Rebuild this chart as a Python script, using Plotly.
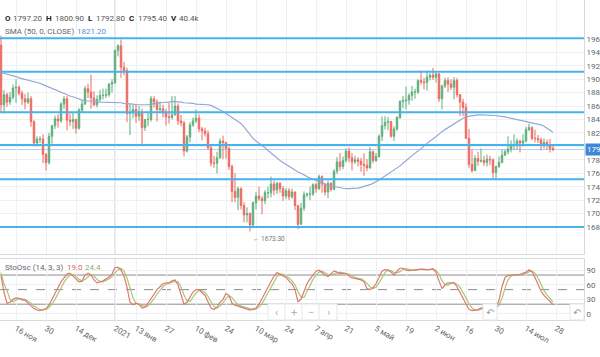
import pandas as pd
import plotly.graph_objects as go

# ---------------- data ----------------
holidays = ["2020-12-25", "2021-01-01"]
calendar = [d.strftime("%Y-%m-%d") for d in pd.bdate_range("2020-11-09", "2021-08-13")
            if d.strftime("%Y-%m-%d") not in holidays]

opn = [1951, 1862, 1877, 1866, 1873, 1887, 1888, 1879, 1871, 1866, 1871, 1837, 1805, 1811, 1811, 1788,
       1776, 1815, 1831, 1841, 1838, 1863, 1871, 1839, 1837, 1840, 1827, 1854, 1863, 1886, 1881, 1872, 1862, 1870, 1876, 1876, 1877, 1893,
       1895, 1943, 1950, 1918, 1913, 1849, 1850, 1855, 1845, 1851, 1828, 1840, 1840, 1871, 1866, 1855, 1856, 1850, 1844, 1843,
       1847, 1860, 1838, 1835, 1793, 1814, 1832, 1838, 1842, 1826, 1823, 1819, 1798, 1775, 1775, 1783, 1808, 1806, 1797, 1770,
       1733, 1724, 1737, 1712, 1698, 1700, 1683, 1716, 1726, 1722, 1719, 1731, 1731, 1744, 1735, 1745, 1737, 1726, 1734, 1725, 1732, 1712, 1684,
       1708, 1728, 1729, 1729, 1743, 1737, 1755, 1744, 1732, 1745, 1736, 1763, 1777, 1770, 1779, 1793, 1783, 1777, 1780, 1778, 1773, 1772,
       1768, 1792, 1779, 1785, 1815, 1831, 1836, 1837, 1815, 1826, 1843, 1867, 1868, 1869, 1876, 1881, 1881, 1898, 1896, 1895, 1903, 1906, 1903,
       1908, 1871, 1890, 1898, 1893, 1888, 1898, 1877, 1866, 1858, 1812, 1773, 1764, 1782, 1778, 1779, 1776, 1781, 1780, 1761,
       1770, 1776, 1787, 1792, 1796, 1803, 1803, 1808, 1805, 1808, 1825, 1828, 1812, 1812, 1810, 1803, 1806, 1802, 1797.2]
high = [1965, 1884, 1880, 1881, 1892, 1900, 1891, 1883, 1878, 1880, 1875, 1839, 1815, 1815, 1818, 1790,
        1820, 1832, 1846, 1848, 1866, 1875, 1875, 1849, 1850, 1841, 1857, 1869, 1890, 1893, 1907, 1882, 1876, 1884, 1886, 1886, 1894, 1900,
        1944, 1952, 1959, 1926, 1917, 1864, 1862, 1863, 1860, 1856, 1841, 1850, 1875, 1875, 1870, 1867, 1862, 1856, 1865, 1875,
        1875, 1864, 1847, 1838, 1817, 1836, 1843, 1855, 1848, 1829, 1828, 1824, 1801, 1786, 1792, 1812, 1816, 1806, 1799, 1773,
        1760, 1740, 1739, 1717, 1709, 1702, 1718, 1732, 1740, 1726, 1735, 1740, 1755, 1749, 1747, 1747, 1741, 1738, 1738, 1737, 1733, 1713, 1716,
        1733, 1731, 1740, 1745, 1746, 1758, 1757, 1745, 1749, 1747, 1766, 1784, 1790, 1785, 1797, 1798, 1790, 1786, 1784, 1783, 1790, 1781,
        1799, 1794, 1790, 1818, 1845, 1845, 1844, 1838, 1830, 1845, 1869, 1875, 1889, 1879, 1890, 1886, 1900, 1913, 1902, 1913, 1909, 1917, 1910,
        1909, 1892, 1902, 1903, 1900, 1903, 1902, 1878, 1871, 1864, 1826, 1795, 1787, 1792, 1797, 1786, 1788, 1786, 1782, 1771,
        1785, 1795, 1795, 1815, 1809, 1818, 1812, 1810, 1818, 1829, 1834, 1830, 1825, 1817, 1813, 1812, 1810, 1811, 1800.9]
low = [1850, 1849, 1859, 1862, 1870, 1865, 1876, 1862, 1855, 1863, 1829, 1800, 1800, 1805, 1775, 1764,
       1773, 1804, 1826, 1828, 1835, 1856, 1824, 1830, 1826, 1819, 1825, 1850, 1862, 1872, 1856, 1860, 1858, 1867, 1870, 1872, 1874, 1880,
       1893, 1934, 1902, 1906, 1836, 1817, 1842, 1835, 1838, 1803, 1823, 1830, 1837, 1858, 1837, 1850, 1843, 1831, 1834, 1840,
       1846, 1832, 1830, 1785, 1791, 1806, 1829, 1835, 1821, 1809, 1815, 1795, 1770, 1768, 1760, 1782, 1781, 1782, 1765, 1717,
       1717, 1705, 1706, 1687, 1687, 1673.3, 1678, 1706, 1719, 1699, 1714, 1723, 1724, 1727, 1729, 1731, 1719, 1722, 1720, 1722, 1705, 1677, 1684,
       1704, 1724, 1720, 1726, 1731, 1735, 1731, 1727, 1723, 1733, 1735, 1759, 1764, 1766, 1776, 1776, 1764, 1774, 1770, 1762, 1756, 1763,
       1767, 1775, 1777, 1783, 1808, 1825, 1824, 1813, 1808, 1823, 1841, 1857, 1855, 1862, 1868, 1871, 1878, 1892, 1885, 1883, 1898, 1899, 1895,
       1866, 1855, 1887, 1881, 1884, 1870, 1873, 1845, 1845, 1811, 1768, 1761, 1763, 1771, 1776, 1771, 1770, 1772, 1750, 1751,
       1768, 1775, 1786, 1788, 1791, 1795, 1795, 1791, 1800, 1806, 1823, 1809, 1806, 1805, 1794, 1797, 1795, 1791, 1792.8]
close = [1862, 1877, 1866, 1873, 1887, 1888, 1879, 1871, 1866, 1871, 1837, 1805, 1811, 1811, 1788, 1776,
         1815, 1831, 1841, 1838, 1863, 1871, 1839, 1837, 1840, 1827, 1854, 1863, 1886, 1881, 1872, 1862, 1870, 1876, 1876, 1877, 1893, 1895,
         1943, 1950, 1918, 1913, 1849, 1850, 1855, 1845, 1851, 1828, 1840, 1840, 1871, 1866, 1855, 1856, 1850, 1844, 1843, 1847,
         1860, 1838, 1835, 1793, 1814, 1832, 1838, 1842, 1826, 1823, 1819, 1798, 1775, 1775, 1783, 1808, 1806, 1797, 1770, 1733,
         1724, 1737, 1712, 1698, 1700, 1683, 1716, 1726, 1722, 1719, 1731, 1731, 1744, 1735, 1745, 1737, 1726, 1734, 1725, 1732, 1712, 1684, 1708,
         1728, 1729, 1729, 1743, 1737, 1755, 1744, 1732, 1745, 1736, 1763, 1777, 1770, 1779, 1793, 1783, 1777, 1780, 1778, 1773, 1772, 1768,
         1792, 1779, 1785, 1815, 1831, 1836, 1837, 1815, 1826, 1843, 1867, 1868, 1869, 1876, 1881, 1881, 1898, 1896, 1895, 1903, 1906, 1903, 1908,
         1871, 1890, 1898, 1893, 1888, 1898, 1877, 1866, 1858, 1812, 1773, 1764, 1782, 1778, 1779, 1776, 1781, 1780, 1761, 1770,
         1776, 1787, 1792, 1796, 1803, 1803, 1808, 1805, 1808, 1825, 1828, 1812, 1812, 1810, 1803, 1806, 1802, 1797, 1795.4]

sma50 = [1910, 1909, 1907, 1906, 1905, 1904, 1902, 1901, 1900, 1899, 1897, 1896, 1895, 1894,
         1892, 1890, 1888, 1886, 1884, 1882, 1880, 1879, 1877, 1875, 1874, 1872, 1870, 1869,
         1868, 1868, 1867, 1867, 1867, 1866, 1866, 1866, 1866, 1866, 1866, 1865, 1865, 1864, 1864,
         1863, 1863, 1862, 1862, 1861, 1862, 1862, 1863, 1863, 1864, 1865, 1865, 1866, 1866, 1867,
         1867, 1866, 1866, 1865, 1865, 1864, 1864, 1863, 1863, 1863, 1862, 1862, 1861, 1859, 1857,
         1855, 1852, 1849, 1846, 1843, 1840, 1837, 1834, 1829, 1823, 1818, 1812,
         1808, 1805, 1801, 1798, 1794, 1790, 1786, 1783, 1779, 1776, 1773, 1770, 1767, 1765, 1762,
         1760, 1757, 1755, 1753, 1751, 1749, 1747, 1745, 1744, 1742, 1741, 1740, 1739, 1738, 1738, 1737,
         1737, 1737, 1738, 1738, 1739, 1740, 1741, 1743, 1745, 1747, 1750, 1753, 1756, 1759, 1762, 1765, 1767,
         1771, 1775, 1779, 1782, 1786, 1790, 1793, 1797, 1800, 1804, 1808, 1811, 1815,
         1818, 1822, 1825, 1828, 1831, 1834, 1837, 1839, 1842, 1844, 1845, 1846, 1846, 1847, 1847, 1847, 1847,
         1847, 1846, 1846, 1845, 1845, 1844, 1843, 1842, 1842, 1841, 1840, 1839, 1838, 1837, 1836, 1835, 1834,
         1832, 1830, 1827, 1824, 1821.2]

stoch_k = [78, 45, 22, 24, 30, 33, 32, 29, 28, 22, 16, 11, 8, 7, 9, 11, 18, 30, 42, 55, 66, 74, 82, 84, 78, 70, 66, 67, 80, 84,
           80, 70, 64, 66, 68, 72, 76, 82, 95, 96, 90, 78, 55, 24, 19, 22, 20, 12, 14, 22, 32, 40, 50, 56, 62, 64, 64, 68, 70, 60,
           38, 20, 24, 34, 45, 50, 50, 44, 38, 25, 12, 9, 14, 24, 30, 42, 38, 22, 18, 16, 14, 11, 10, 8, 10, 12, 20, 32, 43, 55,
           67, 78, 85, 82, 78, 75, 68, 62, 50, 25, 30, 48, 62, 72, 80, 88, 90, 85, 80, 77, 82, 88, 86, 83, 84, 83, 78, 74, 73, 72,
           70, 66, 52, 50, 54, 62, 75, 88, 91, 90, 86, 80, 88, 94, 94, 90, 89, 90, 91, 92, 92, 91, 91, 91, 93, 85, 68, 52, 60, 64,
           64, 64, 56, 45, 33, 20, 9, 7, 8, 9, 12, 14, 15, 14, 12, 12, 28, 56, 75, 79, 80, 80, 81, 81, 83, 86, 91, 87, 75, 60,
           47, 38, 32, 24, 19.0]
stoch_d = [85, 62, 48, 30, 25, 29, 32, 31, 30, 26, 22, 16, 12, 9, 8, 9, 13, 20, 30, 42, 54, 65, 74, 80, 81, 77, 71, 68, 71, 77,
           81, 78, 71, 67, 66, 69, 72, 77, 84, 91, 94, 88, 74, 52, 33, 22, 20, 18, 15, 16, 23, 31, 41, 49, 56, 61, 63, 65, 67, 66,
           56, 39, 27, 26, 34, 43, 48, 48, 44, 36, 25, 15, 12, 16, 23, 32, 37, 34, 26, 19, 16, 14, 12, 10, 9, 10, 14, 21, 32, 43,
           55, 67, 77, 82, 82, 78, 74, 68, 60, 46, 35, 34, 47, 61, 71, 80, 86, 88, 85, 81, 80, 82, 85, 86, 84, 83, 82, 78, 75, 73,
           72, 69, 63, 56, 52, 55, 64, 75, 85, 90, 89, 85, 85, 87, 92, 93, 91, 90, 90, 91, 92, 92, 91, 91, 92, 90, 82, 68, 60, 59,
           63, 64, 61, 55, 45, 33, 21, 12, 8, 8, 10, 12, 14, 14, 14, 13, 17, 32, 53, 70, 78, 80, 80, 81, 82, 83, 87, 88, 84, 74,
           61, 48, 39, 31, 24.4]

levels = [1961, 1911, 1851, 1802, 1751, 1680]
price_ticks = [1680, 1700, 1720, 1740, 1760, 1780, 1800, 1820, 1840, 1860, 1880, 1900, 1920, 1940, 1960]
stoch_ticks = [0, 30, 60, 90]
tick_dates = ["2020-11-16", "2020-11-30", "2020-12-14", "2021-01-04", "2021-01-13", "2021-01-27",
              "2021-02-10", "2021-02-24", "2021-03-10", "2021-03-24", "2021-04-07", "2021-04-21",
              "2021-05-05", "2021-05-19", "2021-06-02", "2021-06-16", "2021-06-30", "2021-07-14", "2021-07-28"]
tick_text = ["16 ноя", "30", "14 дек", "2021", "13 янв", "27", "10 фев", "24", "10 мар", "24", "7 апр", "21",
             "5 май", "19", "2 июн", "16", "30", "14 июл", "28"]
volume_text = "40.4k"
low_price = min(low)

# ---------------- build ----------------
n = len(close)
dates = calendar[:n]
pos = {d: i for i, d in enumerate(calendar)}
xs = list(range(n))
tickpos = [pos[d] for d in tick_dates]
low_idx = low.index(low_price)
year_idx = pos["2021-01-04"]

UP, DOWN = "#5fae7c", "#ee6a60"
FONT = "Roboto, Arial, sans-serif"
PW, PH = 584.0, 320.0


def px(x):
    return x / PW


def py(y):
    return 1 - y / PH


fig = go.Figure()
fig.add_trace(go.Candlestick(
    x=xs, open=opn, high=high, low=low, close=close, customdata=dates,
    increasing=dict(line=dict(color=UP, width=1), fillcolor=UP),
    decreasing=dict(line=dict(color=DOWN, width=1), fillcolor=DOWN),
    whiskerwidth=0, xaxis="x", yaxis="y", hoverinfo="skip"))
fig.add_trace(go.Scatter(x=xs, y=sma50, mode="lines", line=dict(color="#93a9d3", width=1.2),
                         xaxis="x", yaxis="y", hoverinfo="skip"))
fig.add_trace(go.Scatter(x=xs, y=stoch_d, mode="lines", line=dict(color="#a9c57c", width=1.2),
                         xaxis="x2", yaxis="y2", hoverinfo="skip"))
fig.add_trace(go.Scatter(x=xs, y=stoch_k, mode="lines", line=dict(color="#dd7a6c", width=1.2),
                         xaxis="x2", yaxis="y2", hoverinfo="skip"))

shapes = []
for lv in levels:
    shapes.append(dict(type="line", xref="x domain", yref="y", x0=0, x1=1, y0=lv, y1=lv,
                       line=dict(color="#46b3ea", width=2), layer="above"))
shapes.append(dict(type="line", xref="x domain", yref="y", x0=0, x1=1, y0=close[-1], y1=close[-1],
                   line=dict(color="#b3cdf0", width=1), layer="below"))
for lv, dash in [(80, "solid"), (20, "solid"), (50, "dash")]:
    shapes.append(dict(type="line", xref="x2 domain", yref="y2", x0=0, x1=1, y0=lv, y1=lv,
                       line=dict(color="#8c8c8c", width=1, dash=dash), layer="below"))
for ax, yr in [("x", "y domain"), ("x2", "y2 domain")]:
    shapes.append(dict(type="line", xref=ax, yref=yr, x0=year_idx, x1=year_idx, y0=0, y1=1,
                       line=dict(color="#c9ccd1", width=1), layer="below"))
# navigation overlay boxes
shapes.append(dict(type="rect", xref="paper", yref="paper", x0=px(268), x1=px(337), y0=py(320), y1=py(304),
                   fillcolor="white", line=dict(color="#e3e6ea", width=1), layer="above"))
for bx in [285, 302, 319]:
    shapes.append(dict(type="line", xref="paper", yref="paper", x0=px(bx), x1=px(bx), y0=py(320), y1=py(304),
                       line=dict(color="#e3e6ea", width=1), layer="above"))
for bx in [483, 570]:
    shapes.append(dict(type="rect", xref="paper", yref="paper", x0=px(bx), x1=px(bx + 14), y0=py(320), y1=py(304),
                       fillcolor="white", line=dict(color="#e3e6ea", width=1), layer="above"))

ann = []


def text(x, y, s, color="#555", size=8, anchor="left", **kw):
    ann.append(dict(xref="paper", yref="paper", x=px(x), y=py(y), text=s, showarrow=False,
                    xanchor=anchor, yanchor="middle", font=dict(family=FONT, size=size, color=color), **kw))


hdr = [("<b>O</b>", 3, "#222"), (f"{opn[-1]:.2f}", 11, "#555"), ("<b>H</b>", 44, "#222"), (f"{high[-1]:.2f}", 53, "#555"),
       ("<b>L</b>", 86, "#222"), (f"{low[-1]:.2f}", 94, "#555"), ("<b>C</b>", 127, "#222"), (f"{close[-1]:.2f}", 136, "#555"),
       ("<b>V</b>", 169, "#222"), (volume_text, 177, "#555")]
for s, x, c in hdr:
    text(x, 18, s, c)
text(3, 32, "SMA (50, 0, CLOSE)", "#666")
text(75, 32, f"{sma50[-1]:.2f}", "#5b8cd2")
text(3, 267, "StoOsc (14, 3, 3)", "#666")
text(65, 267, f"{stoch_k[-1]:.1f}", "#d9675f")
text(83, 267, f"{stoch_d[-1]:.1f}", "#8fb05e")
for s, x in [("‹", 276.5), ("+", 293.5), ("−", 310.5), ("›", 328)]:
    text(x, 312, s, "#b0b4ba", size=11, anchor="center")
for bx in [490, 577]:
    text(bx, 312, "↶", "#9aa0a6", size=10, anchor="center")
# low marker
ann.append(dict(xref="x", yref="y", x=low_idx, y=low_price, text="← " + f"{low_price:.2f}", showarrow=False,
                xanchor="left", yanchor="top", xshift=1, yshift=-1,
                font=dict(family=FONT, size=6.5, color="#777")))
# last price tag
ann.append(dict(xref="paper", yref="y", x=px(585), y=close[-1], text=f"{close[-1]:.2f}", showarrow=False,
                xanchor="left", yanchor="middle", bgcolor="#3f86d6", borderpad=1,
                font=dict(family=FONT, size=8, color="white")))

grid = "#eef0f3"
fig.update_layout(
    width=600, height=357, margin=dict(l=0, r=16, t=0, b=37),
    paper_bgcolor="white", plot_bgcolor="white", showlegend=False,
    font=dict(family=FONT, size=8, color="#666"),
    shapes=shapes, annotations=ann,
    xaxis=dict(domain=[0, 1], anchor="y", range=[-1 / 3, 194.33], tickvals=tickpos, ticktext=tick_text,
               showticklabels=False, showgrid=True, gridcolor=grid, zeroline=False, ticks="",
               rangeslider=dict(visible=False), showline=True, linecolor="#d6dae0", mirror=False),
    yaxis=dict(domain=[py(254), 1], anchor="x", side="right", range=[1639.8, 2018],
               tickvals=price_ticks, ticktext=[("" if t == 1800 else str(t)) for t in price_ticks],
               showgrid=True, gridcolor=grid, zeroline=False, ticks="", automargin=False,
               showline=True, linecolor="#d6dae0", tickfont=dict(size=8, color="#666")),
    xaxis2=dict(domain=[0, 1], anchor="y2", matches="x", range=[-1 / 3, 194.33], tickvals=tickpos,
                ticktext=tick_text, showgrid=True, gridcolor=grid, zeroline=False, ticks="",
                showline=True, linecolor="#d6dae0", mirror=True, automargin=False,
                tickfont=dict(size=8, color="#666")),
    yaxis2=dict(domain=[0, py(259)], anchor="x2", side="right", range=[-12.5, 113], tickvals=stoch_ticks,
                showgrid=True, gridcolor=grid, zeroline=False, ticks="", automargin=False,
                showline=True, linecolor="#d6dae0", tickfont=dict(size=8, color="#666")),
)

fig.write_html("out.html", config={"displayModeBar": False},
               post_script="document.body.style.margin='0';document.body.style.overflow='hidden';")
